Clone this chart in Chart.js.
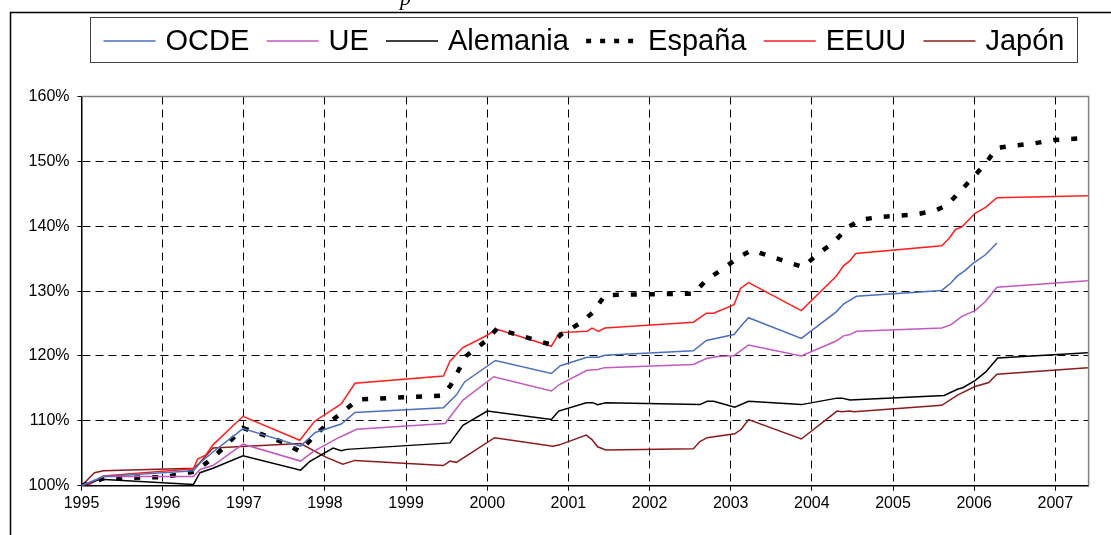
<!DOCTYPE html>
<html lang="es">
<head>
    <meta charset="UTF-8">
    <title>OCDE, UE, Alemania, España, EEUU, Japón</title>
    <script src="https://cdn.jsdelivr.net/npm/chart.js"></script>
    <style>
        html, body { margin: 0; padding: 0; background: #fff; }
        canvas { display: block; }
    </style>
</head>
<body>
    <canvas id="chart" width="1111" height="535"></canvas>
    <script>
        // Tick labels
        const yearTicks = [1995, 1996, 1997, 1998, 1999, 2000, 2001, 2002, 2003, 2004, 2005, 2006, 2007];
        const pctTicks = [100, 110, 120, 130, 140, 150, 160];

        // Series names (legend order)
        const seriesNames = ['OCDE', 'UE', 'Alemania', 'España', 'EEUU', 'Japón'];

        // Series values: [year, index %]
        const ocde = [[1995,100],[1995.27,101.4],[1996.38,102.3],[1996.46,103.5],[1996.62,105.2],[1996.99,108.8],[1997.7,106.1],[1997.88,108.2],[1998.2,109.5],[1998.37,111.3],[1999.46,112.0],[1999.62,114.0],[1999.72,116.0],[2000.1,119.3],[2000.79,117.3],[2000.9,118.5],[2001.23,119.8],[2001.37,119.8],[2001.45,120.1],[2002.54,120.8],[2002.7,122.4],[2003.04,123.3],[2003.14,124.8],[2003.22,125.9],[2003.87,122.7],[2004.3,126.8],[2004.39,128.0],[2004.47,128.6],[2004.55,129.2],[2005.6,130.1],[2005.71,131.2],[2005.79,132.3],[2005.89,133.2],[2005.99,134.3],[2006.14,135.6],[2006.28,137.4]];
        const ue = [[1995,100],[1995.27,101.4],[1996.38,101.4],[1996.46,102.5],[1996.62,103.1],[1996.99,106.4],[1997.7,103.8],[1997.85,105.2],[1998.15,107.3],[1998.22,107.7],[1998.39,108.7],[1999.48,109.6],[1999.7,113.2],[2000.08,116.8],[2000.79,114.6],[2000.89,115.6],[2001.23,117.8],[2001.36,117.9],[2001.45,118.2],[2002.54,118.7],[2002.7,119.6],[2002.84,119.9],[2003.04,120.05],[2003.22,121.7],[2003.87,120.0],[2004.3,122.3],[2004.39,123.1],[2004.47,123.3],[2004.55,123.8],[2005.6,124.3],[2005.71,124.8],[2005.85,126.1],[2006.01,127.0],[2006.14,128.4],[2006.28,130.6],[2007.4,131.6]];
        const alemania = [[1995,100],[1995.23,101.0],[1996.38,100.2],[1996.46,102.0],[1996.62,102.7],[1996.99,104.6],[1997.7,102.4],[1997.81,103.7],[1998.1,105.8],[1998.2,105.4],[1998.27,105.6],[1999.54,106.6],[1999.7,109.3],[2000.0,111.5],[2000.79,110.2],[2000.88,111.5],[2001.22,112.8],[2001.3,112.8],[2001.36,112.5],[2001.46,112.8],[2002.62,112.5],[2002.71,113.0],[2002.79,113.0],[2003.05,112.1],[2003.22,113.0],[2003.87,112.5],[2004.31,113.5],[2004.37,113.5],[2004.47,113.2],[2005.63,113.9],[2005.8,114.9],[2005.86,115.1],[2006.01,116.2],[2006.14,117.5],[2006.29,119.7],[2007.4,120.5]];
        const espana = [[1995,100],[1995.29,101.2],[1995.5,101.1],[1995.75,101.3],[1996.0,101.3],[1996.19,101.7],[1996.4,102.2],[1996.58,103.9],[1996.74,105.7],[1996.99,108.9],[1997.27,107.7],[1997.48,106.7],[1997.69,105.3],[1997.87,107.7],[1998.03,109.5],[1998.22,111.4],[1998.41,113.3],[1999.45,113.9],[1999.55,115.5],[1999.74,120.0],[1999.97,122.2],[2000.12,124.2],[2000.77,121.8],[2000.92,123.4],[2001.15,125.1],[2001.31,126.8],[2001.45,129.4],[2002.54,129.6],[2002.7,131.7],[2002.91,133.5],[2003.11,135.3],[2003.26,136.3],[2003.89,133.7],[2004.08,135.8],[2004.26,137.4],[2004.45,139.9],[2004.6,141.0],[2004.82,141.4],[2005.27,141.8],[2005.52,142.4],[2005.67,143.3],[2005.85,145.7],[2006.0,147.7],[2006.16,150.0],[2006.28,152.1],[2006.75,152.8],[2006.98,153.3],[2007.4,153.6]];
        const eeuu = [[1995,100],[1995.1,100.2],[1995.27,101.5],[1996.38,102.6],[1996.43,104.1],[1996.53,104.7],[1996.62,106.3],[1996.99,110.7],[1997.69,107.0],[1997.87,109.9],[1998.2,112.6],[1998.37,115.8],[1999.46,116.9],[1999.54,119.2],[1999.7,121.3],[1999.97,123.0],[2000.12,124.1],[2000.79,121.5],[2000.89,123.6],[2001.23,123.8],[2001.29,124.3],[2001.37,123.8],[2001.45,124.3],[2002.54,125.2],[2002.7,126.6],[2002.79,126.6],[2003.04,127.9],[2003.12,130.4],[2003.22,131.3],[2003.87,127.0],[2004.3,132.3],[2004.39,133.9],[2004.47,134.7],[2004.54,135.8],[2005.6,137.0],[2005.69,138.1],[2005.77,139.5],[2005.85,139.9],[2006.01,142.0],[2006.14,142.9],[2006.28,144.4],[2007.4,144.7]];
        const japon = [[1995,100],[1995.16,102.0],[1995.27,102.3],[1996.38,102.7],[1996.44,103.3],[1996.62,105.8],[1997.7,106.5],[1998.01,104.4],[1998.22,103.3],[1998.37,103.9],[1999.46,103.1],[1999.54,103.8],[1999.62,103.6],[2000.09,107.4],[2000.81,106.1],[2000.89,106.3],[2001.22,107.8],[2001.29,107.1],[2001.36,106.0],[2001.46,105.5],[2002.54,105.7],[2002.62,106.8],[2002.71,107.4],[2003.05,108.0],[2003.13,108.7],[2003.22,110.2],[2003.87,107.2],[2004.31,111.5],[2004.37,111.4],[2004.46,111.5],[2004.52,111.4],[2005.6,112.4],[2005.8,114.0],[2006.01,115.3],[2006.18,115.9],[2006.28,117.2],[2007.4,118.2]];

        const seriesData = [ocde, ue, alemania, espana, eeuu, japon];
        const seriesColors = ['#4a6fc0', '#c259c0', '#000000', '#000000', '#ff1f1f', '#8a1c1c'];
        const seriesWidths = [1.5, 1.5, 1.5, 4.5, 1.5, 1.5];
        const seriesDash = [[], [], [], [6, 12], [], []];

        const FONT = '"Liberation Sans", Arial, sans-serif';

        const datasets = seriesNames.map((name, i) => ({
            label: name,
            data: seriesData[i].map(p => ({ x: p[0], y: p[1] })),
            borderColor: seriesColors[i],
            borderWidth: seriesWidths[i],
            borderDash: seriesDash[i],
            borderCapStyle: 'butt',
            pointRadius: 0,
            tension: 0,
            fill: false
        }));

        // frame, plot border, cropped title and the legend box
        const decor = {
            id: 'decor',
            beforeDraw(chart) {
                const ctx = chart.ctx;
                ctx.save();
                ctx.fillStyle = '#fff';
                ctx.fillRect(0, 0, chart.width, chart.height);
                // cropped title fragment
                ctx.fillStyle = '#000';
                ctx.font = 'italic 22px "Liberation Serif", serif';
                ctx.textBaseline = 'alphabetic';
                ctx.fillText('p', 400, 5);
                // outer frame (left and top, the rest is cut off)
                ctx.strokeStyle = '#000';
                ctx.lineWidth = 1.5;
                ctx.beginPath();
                ctx.moveTo(10.5, 535);
                ctx.lineTo(10.5, 12.5);
                ctx.lineTo(1111, 12.5);
                ctx.stroke();
                ctx.restore();
            },
            beforeDatasetsDraw(chart) {
                const { ctx, chartArea: a } = chart;
                ctx.save();
                ctx.strokeStyle = '#808080';
                ctx.lineWidth = 1.5;
                ctx.beginPath();
                ctx.moveTo(a.left, a.top);
                ctx.lineTo(a.right, a.top);
                ctx.lineTo(a.right, a.bottom);
                ctx.stroke();
                ctx.restore();
            },
            afterDraw(chart) {
                const ctx = chart.ctx;
                const box = { left: 90.5, top: 17.5, right: 1077.5, bottom: 62.5 };
                ctx.save();
                ctx.fillStyle = '#fff';
                ctx.fillRect(box.left, box.top, box.right - box.left, box.bottom - box.top);
                ctx.strokeStyle = '#444';
                ctx.lineWidth = 1;
                ctx.strokeRect(box.left, box.top, box.right - box.left, box.bottom - box.top);

                ctx.font = '29px ' + FONT;
                const sample = 52, gap = 10;
                const widths = seriesNames.map(n => ctx.measureText(n).width);
                const itemsW = widths.reduce((s, w) => s + w + sample + gap, 0);
                const inner = box.right - box.left - 26;
                const space = (inner - itemsW) / (seriesNames.length - 1);
                let x = box.left + 13;
                const cy = (box.top + box.bottom) / 2 + 1;
                seriesNames.forEach((name, i) => {
                    ctx.strokeStyle = seriesColors[i];
                    ctx.lineWidth = i === 3 ? 4.5 : 1.5;
                    ctx.setLineDash(i === 3 ? [5, 9] : []);
                    ctx.beginPath();
                    ctx.moveTo(x, cy);
                    ctx.lineTo(x + sample, cy);
                    ctx.stroke();
                    ctx.setLineDash([]);
                    ctx.fillStyle = '#000';
                    ctx.textBaseline = 'middle';
                    ctx.fillText(name, x + sample + gap, cy + 1);
                    x += sample + gap + widths[i] + space;
                });
                ctx.restore();
            }
        };

        new Chart(document.getElementById('chart'), {
            type: 'line',
            data: { datasets },
            options: {
                responsive: false,
                animation: false,
                devicePixelRatio: 1,
                layout: { padding: { left: 0, top: 96.5, right: 22.4, bottom: 0 } },
                plugins: { legend: { display: false }, tooltip: { enabled: false } },
                scales: {
                    x: {
                        type: 'linear',
                        min: 1995,
                        max: 2007.41,
                        afterFit: s => { s.height = 49.3; },
                        afterBuildTicks: s => { s.ticks = yearTicks.map(v => ({ value: v })); },
                        grid: { color: '#000', lineWidth: 1, borderDash: [8, 5], tickLength: 5, tickColor: '#000', tickBorderDash: [] },
                        border: { color: '#000', width: 1.5, dash: [8, 5] },
                        ticks: { color: '#000', font: { family: FONT, size: 16 }, padding: 3, maxRotation: 0, autoSkip: false, callback: v => String(v) }
                    },
                    y: {
                        type: 'linear',
                        min: 100,
                        max: 160,
                        afterFit: s => { s.width = 81.5; },
                        afterBuildTicks: s => { s.ticks = pctTicks.map(v => ({ value: v })); },
                        grid: {
                            color: c => (c.tick && c.tick.value === 160) ? 'rgba(0,0,0,0)' : '#000',
                            lineWidth: 1, borderDash: [8, 5], tickLength: 4, tickColor: '#000', tickBorderDash: []
                        },
                        border: { color: '#000', width: 1.5, dash: [8, 5] },
                        ticks: { color: '#000', font: { family: FONT, size: 16 }, padding: 8, autoSkip: false, callback: v => v + '%' }
                    }
                }
            },
            plugins: [decor]
        });
    </script>
</body>
</html>
